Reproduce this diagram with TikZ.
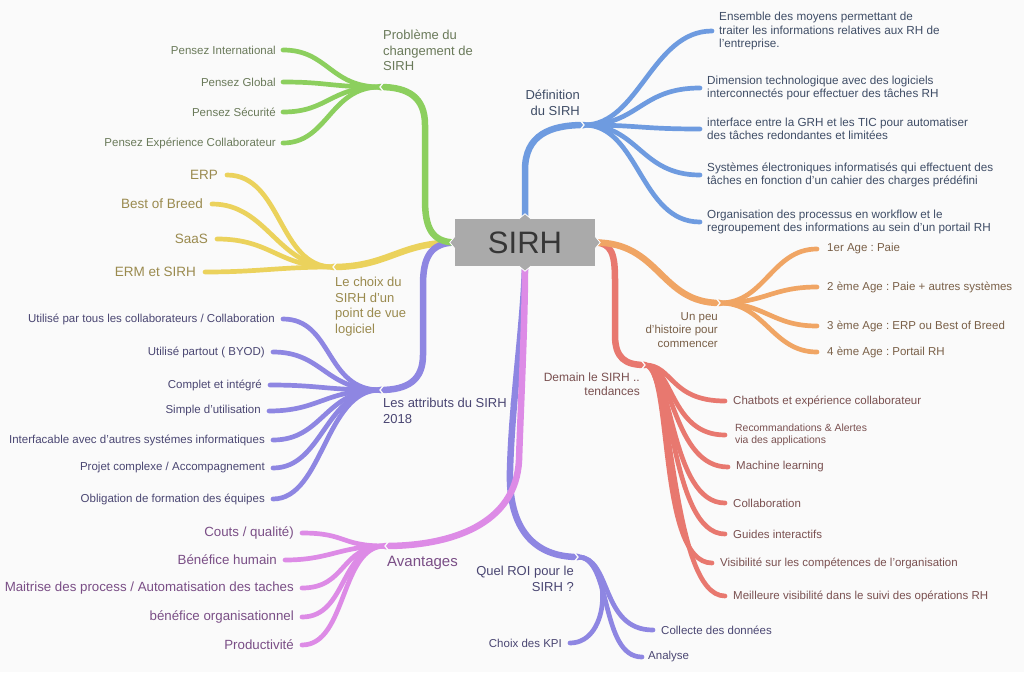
\documentclass[tikz,border=0pt]{standalone}
\usepackage{fontspec}
\setmainfont{Liberation Sans}
\frenchspacing
\definecolor{bgc}{HTML}{FAFAFA}
\definecolor{boxg}{HTML}{AAAAAA}
\definecolor{sirht}{HTML}{363636}
\definecolor{brG}{HTML}{8CCF5E}
\definecolor{brY}{HTML}{EBD25C}
\definecolor{brB}{HTML}{6E9BE0}
\definecolor{brO}{HTML}{F0A564}
\definecolor{brR}{HTML}{E8786F}
\definecolor{brP}{HTML}{8E86E2}
\definecolor{brM}{HTML}{DD8BE6}
\definecolor{txG}{HTML}{6A7A5A}
\definecolor{txY}{HTML}{9A8A4E}
\definecolor{txB}{HTML}{3F4D66}
\definecolor{txO}{HTML}{7A6048}
\definecolor{txR}{HTML}{7A5050}
\definecolor{txP}{HTML}{4A4672}
\definecolor{txM}{HTML}{7A4E86}
\pgfdeclarelayer{front}
\pgfsetlayers{main,front}
\begin{document}
\begin{tikzpicture}[x=1pt,y=-1pt,
  trunk/.style={line width=6.5pt,line cap=round},
  twig/.style={line width=4.7pt,line cap=round},
  lt/.style={inner sep=0pt,font=\fontsize{11.5}{13.5}\selectfont},
  bt/.style={inner sep=0pt,font=\fontsize{11.7}{13.5}\selectfont},
  bl/.style={inner sep=0pt,font=\fontsize{13}{15.5}\selectfont},
  notch/.style={draw=bgc,line width=1.3pt}]
\fill[bgc] (0,0) rectangle (1024,672);
\useasboundingbox (0,0) rectangle (1024,672);

% ---------- centre ----------
\begin{pgfonlayer}{front}
\node[fill=boxg,text=sirht,minimum width=140pt,minimum height=47pt,inner sep=0pt,
      font=\fontsize{31}{31}\selectfont] (sirh) at (525,242.5) {SIRH};
\filldraw[fill=boxg,draw=white,line width=0.8pt] ([xshift=-6pt]sirh.north) -- ([yshift=5pt]sirh.north) -- ([xshift=6pt]sirh.north);
\filldraw[fill=boxg,draw=white,line width=0.8pt] ([xshift=-6pt]sirh.south) -- ([yshift=-5pt]sirh.south) -- ([xshift=6pt]sirh.south);
\filldraw[fill=boxg,draw=white,line width=0.8pt] ([yshift=6pt]sirh.west) -- ([xshift=-5pt]sirh.west) -- ([yshift=-6pt]sirh.west);
\filldraw[fill=boxg,draw=white,line width=0.8pt] ([yshift=6pt]sirh.east) -- ([xshift=5pt]sirh.east) -- ([yshift=-6pt]sirh.east);
\end{pgfonlayer}

% ---------- yellow : choix ----------
\coordinate (yB) at (333,267);
\draw[trunk,brY] (sirh.west) .. controls +(-55,0) and +(55,0) .. (yB);
\node[bl,txY,anchor=north west,align=left] (yL) at (335,277) {Le choix du\\SIRH d'un\\point de vue\\logiciel};
\foreach \n/\x/\y/\t in {y1/227/175/{ERP},y2/212/204/{Best of Breed},y3/217/239/{SaaS},y4/205/272/{ERM et SIRH}}{
  \coordinate (\n) at (\x,\y);
  \draw[twig,brY] (yB) .. controls +(-55,0) and +(55,0) .. (\n);
  \node[inner sep=0pt,font=\fontsize{13.5}{15}\selectfont,txY,anchor=east] (\n t) at ([xshift=-9pt]\n) {\t};
}
\draw[notch] ([shift={(4,-5)}]yB) -- (yB) -- ([shift={(4,5)}]yB);

% ---------- purple : attributs ----------
\coordinate (aB) at (380,390);
\draw[trunk,brP] (sirh.west) .. controls (430,243) and (423,258) .. (423,285) -- (423,355) .. controls (423,380) and (408,390) .. (aB);
\node[bl,txP,anchor=north west,align=left] (aL) at (383,398) {Les attributs du SIRH en\\2018};
\foreach \n/\x/\y/\t in {a1/283/319/{Utilisé par tous les collaborateurs / Collaboration},
  a2/273/352/{Utilisé partout ( BYOD)},a3/270/385/{Complet et intégré},a4/269/411/{Simple d'utilisation},
  a5/273/440/{Interfacable avec d'autres systémes informatiques},a6/273/468/{Projet complexe / Accompagnement},
  a7/273/499/{Obligation de formation des équipes}}{
  \coordinate (\n) at (\x,\y);
  \draw[twig,brP] (aB) .. controls +(-55,0) and +(50,0) .. (\n);
  \node[lt,txP,anchor=east] (\n t) at ([xshift=-8pt]\n) {\t};
}
\draw[notch] ([shift={(4,-5)}]aB) -- (aB) -- ([shift={(4,5)}]aB);

% ---------- green : probleme ----------
\coordinate (gB) at (380,87);
\draw[trunk,brG] (sirh.west) .. controls (432,242) and (425,228) .. (425,200) -- (425,125) .. controls (425,97) and (408,87) .. (gB);
\node[bl,txG,anchor=north west,align=left] (gL) at (383,30) {Problème du\\changement de\\SIRH};
\foreach \n/\x/\y/\t in {g1/283/50/{Pensez International},g2/283/82/{Pensez Global},g3/283/112/{Pensez Sécurité},g4/283/143/{Pensez Expérience Collaborateur}}{
  \coordinate (\n) at (\x,\y);
  \draw[twig,brG] (gB) .. controls +(-50,0) and +(45,0) .. (\n);
  \node[lt,txG,anchor=east] (\n t) at ([xshift=-7pt]\n) {\t};
}
\draw[notch] ([shift={(4,-5)}]gB) -- (gB) -- ([shift={(4,5)}]gB);

% ---------- purple : ROI ----------
\coordinate (rB) at (578,557);
\draw[trunk,brP] (sirh.south) .. controls (523,330) and (512,400) .. (510,470) .. controls (508,530) and (535,557) .. (rB);
\node[bl,txP,anchor=north east,align=right] (rL) at (574,566) {Quel ROI pour le\\SIRH ?};
\coordinate (k1) at (570,643);
\coordinate (k2) at (653,630);
\coordinate (k3) at (642,657);
\draw[twig,brP] (rB) .. controls (612,557) and (612,643) .. (k1);
\draw[twig,brP] (rB) .. controls (612,557) and (600,630) .. (k2);
\draw[twig,brP] (rB) .. controls (612,557) and (600,657) .. (k3);
\node[lt,txP,anchor=east] (k1t) at ([xshift=-8pt]k1) {Choix des KPI};
\node[lt,txP,anchor=west] (k2t) at ([xshift=8pt]k2) {Collecte des données};
\node[lt,txP,anchor=west] (k3t) at ([xshift=6pt]k3) {Analyse};
\draw[notch] ([shift={(-4,-5)}]rB) -- (rB) -- ([shift={(-4,5)}]rB);

% ---------- pink : avantages ----------
\coordinate (pB) at (385,546);
\draw[trunk,brM] (sirh.south) .. controls (525,320) and (521,400) .. (519,460) .. controls (516,525) and (450,546) .. (pB);
\node[inner sep=0pt,font=\fontsize{15}{17}\selectfont,txM,anchor=west] (pL) at (387,563) {Avantages};
\foreach \n/\x/\y/\t in {m1/302/533/{Couts / qualité)},m2/285/560/{Bénéfice humain},
  m3/302/588/{Maitrise des process / Automatisation des taches},m4/302/617/{bénéfice organisationnel},
  m5/302/645/{Productivité}}{
  \coordinate (\n) at (\x,\y);
  \draw[twig,brM] (pB) .. controls +(-45,0) and +(45,0) .. (\n);
  \node[inner sep=0pt,font=\fontsize{13.3}{15}\selectfont,txM,anchor=east] (\n t) at ([xshift=-8pt]\n) {\t};
}
\draw[notch] ([shift={(4,-5)}]pB) -- (pB) -- ([shift={(4,5)}]pB);

% ---------- blue : definition ----------
\coordinate (bB) at (584,125);
\draw[trunk,brB] (sirh.north) -- (525,170) .. controls (525,135) and (550,125) .. (bB);
\node[bl,txB,anchor=north east,align=right] (bL) at (580,90) {Définition\\du SIRH};
\foreach \n/\x/\y/\t in {b1/712/31/{Ensemble des moyens permettant de\\traiter les informations relatives aux RH de\\l'entreprise.},
  b2/700/88/{Dimension technologique avec des logiciels\\interconnectés pour effectuer des tâches RH},
  b3/700/129/{interface entre la GRH et les TIC pour automatiser\\des tâches redondantes et limitées},
  b4/700/175/{Systèmes électroniques informatisés qui effectuent des\\tâches en fonction d'un cahier des charges prédéfini},
  b5/700/222/{Organisation des processus en workflow et le\\regroupement des informations au sein d'un portail RH}}{
  \coordinate (\n) at (\x,\y);
  \draw[twig,brB] (bB) .. controls +(55,0) and +(-60,0) .. (\n);
  \node[bt,txB,anchor=west,align=left] (\n t) at ([xshift=7pt]\n) {\t};
}
\draw[notch] ([shift={(-4,-5)}]bB) -- (bB) -- ([shift={(-4,5)}]bB);

% ---------- red : demain ----------
\coordinate (dB) at (645,365);
\draw[trunk,brR] (sirh.east) .. controls (612,243) and (615,255) .. (615,280) -- (615,335) .. controls (615,358) and (625,365) .. (dB);
\node[inner sep=0pt,font=\fontsize{12}{14}\selectfont,txR,anchor=north east,align=right] (dL) at (640,373) {Demain le SIRH ..\\tendances};
\foreach \n/\x/\y/\t in {d1/725/401/{Chatbots et expérience collaborateur},d3/728/467/{Machine learning},
  d4/725/503/{Collaboration},d5/725/534/{Guides interactifs},d6/712/563/{Visibilité sur les compétences de l'organisation},
  d7/725/596/{Meilleure visibilité dans le suivi des opérations RH}}{
  \coordinate (\n) at (\x,\y);
  \draw[twig,brR] (dB) .. controls +(28,0) and +(-55,0) .. (\n);
  \node[lt,txR,anchor=west] (\n t) at ([xshift=8pt]\n) {\t};
}
\coordinate (d2) at (725,435);
\draw[twig,brR] (dB) .. controls +(28,0) and +(-55,0) .. (d2);
\node[inner sep=0pt,font=\fontsize{10.4}{12}\selectfont,txR,anchor=west,align=left] (d2t) at ([xshift=10pt]d2) {Recommandations \& Alertes\\via des applications};
\draw[notch] ([shift={(-4,-5)}]dB) -- (dB) -- ([shift={(-4,5)}]dB);

% ---------- orange : histoire ----------
\coordinate (oB) at (720,303);
\draw[trunk,brO] (sirh.east) .. controls +(65,0) and +(-60,0) .. (oB);
\node[lt,txO,anchor=north east,align=right] (oL) at (718,312) {Un peu\\d'histoire pour\\commencer};
\foreach \n/\x/\y/\t in {o1/817/249/{1er Age : Paie},o2/817/287/{2 ème Age : Paie + autres systèmes},
  o3/817/326/{3 ème Age : ERP ou Best of Breed},o4/817/352/{4 ème Age : Portail RH}}{
  \coordinate (\n) at (\x,\y);
  \draw[twig,brO] (oB) .. controls +(45,0) and +(-45,0) .. (\n);
  \node[lt,txO,anchor=west] (\n t) at ([xshift=10pt]\n) {\t};
}
\draw[notch] ([shift={(-4,-5)}]oB) -- (oB) -- ([shift={(-4,5)}]oB);
\end{tikzpicture}
\end{document}
